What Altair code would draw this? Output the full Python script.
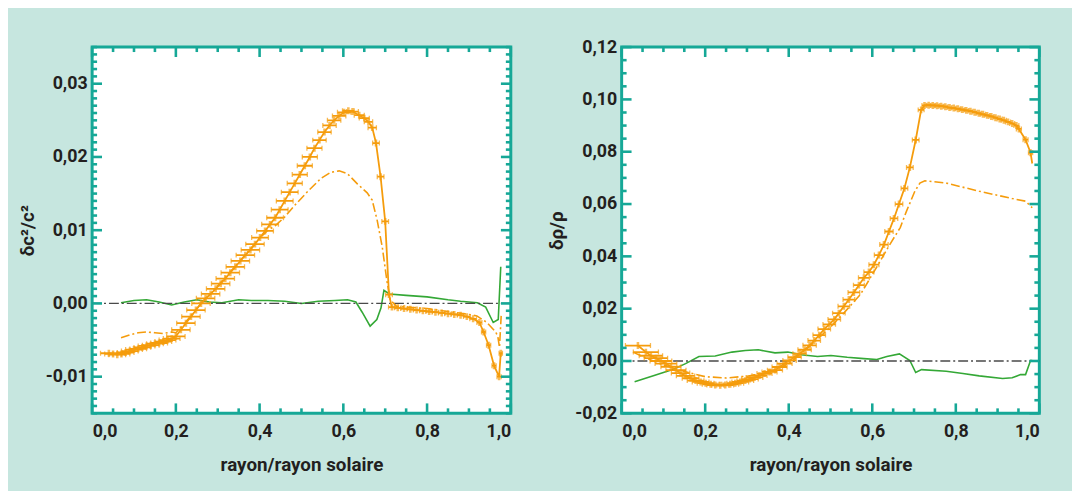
import altair as alt
import pandas as pd

TEAL = "#16a897"
BG = "#c6e6df"
ORANGE = "#f59c0c"
GREEN = "#34a836"
ZERO = "#4a4a4a"
FONT = "Roboto"

# ---------------- left panel : dc2/c2 ----------------
c_x = [0.040, 0.050, 0.060, 0.070, 0.080, 0.090, 0.100, 0.110, 0.120, 0.130,
       0.140, 0.150, 0.160, 0.170, 0.180, 0.190, 0.200, 0.212, 0.224, 0.236,
       0.248, 0.260, 0.271, 0.283, 0.295, 0.307, 0.318, 0.330, 0.342, 0.354,
       0.366, 0.378, 0.389, 0.401, 0.413, 0.425, 0.437, 0.448, 0.460, 0.472,
       0.484, 0.496, 0.508, 0.520, 0.531, 0.543, 0.555, 0.567, 0.578, 0.590,
       0.602, 0.612, 0.622, 0.638, 0.650, 0.660, 0.669, 0.678, 0.689, 0.700,
       0.709, 0.716, 0.730, 0.745, 0.760, 0.775, 0.790, 0.805, 0.820, 0.835,
       0.850, 0.865, 0.880, 0.895, 0.910, 0.925, 0.935, 0.947, 0.960, 0.972,
       0.976]
c_y = [-0.0068, -0.0069, -0.0070, -0.0069, -0.0067, -0.0065, -0.0063, -0.0062, -0.0060, -0.0058,
       -0.0057, -0.0055, -0.0054, -0.0052, -0.0050, -0.0048, -0.0045, -0.0036, -0.0027, -0.0018,
       -0.0009, 0.0000, 0.0007, 0.0013, 0.0020, 0.0027, 0.0034, 0.0042, 0.0050, 0.0058,
       0.0066, 0.0073, 0.0081, 0.0090, 0.0099, 0.0108, 0.0117, 0.0128, 0.0140, 0.0152,
       0.0164, 0.0176, 0.0188, 0.0200, 0.0212, 0.0223, 0.0234, 0.0243, 0.0250, 0.0256,
       0.0261, 0.0263, 0.0262, 0.0257, 0.0253, 0.0248, 0.0240, 0.0219, 0.0173, 0.0112,
       0.0012, -0.0005, -0.0006, -0.0007, -0.0008, -0.0009, -0.0010, -0.0011, -0.0012, -0.0013,
       -0.0014, -0.0015, -0.0016, -0.0018, -0.0021, -0.0026, -0.0039, -0.0057, -0.0085, -0.0100,
       -0.0068]
c_err = [0.020, 0.020, 0.020, 0.020, 0.020, 0.020, 0.020, 0.020, 0.020, 0.020,
         0.020, 0.020, 0.020, 0.020, 0.020, 0.020, 0.022, 0.022, 0.022, 0.022,
         0.022, 0.022, 0.022, 0.022, 0.022, 0.022, 0.022, 0.022, 0.022, 0.022,
         0.022, 0.022, 0.022, 0.020, 0.020, 0.020, 0.020, 0.020, 0.020, 0.020,
         0.018, 0.018, 0.018, 0.018, 0.018, 0.016, 0.016, 0.016, 0.016, 0.016,
         0.016, 0.014, 0.014, 0.012, 0.012, 0.010, 0.010, 0.008, 0.008, 0.008,
         0.008, 0.008, 0.008, 0.008, 0.008, 0.008, 0.008, 0.008, 0.008, 0.008,
         0.008, 0.008, 0.008, 0.008, 0.008, 0.006, 0.005, 0.005, 0.005, 0.005,
         0.004]

c_model_x = [0.069, 0.090, 0.110, 0.130, 0.150, 0.170, 0.190, 0.200, 0.220, 0.250,
             0.300, 0.350, 0.400, 0.420, 0.437, 0.460, 0.484, 0.515, 0.547, 0.570,
             0.590, 0.610, 0.634, 0.657, 0.669, 0.681, 0.693, 0.704, 0.712, 0.727,
             0.800, 0.850, 0.900, 0.919, 0.943, 0.964, 0.969, 0.973, 0.977]
c_model_y = [-0.0047, -0.0043, -0.0040, -0.0039, -0.0040, -0.0041, -0.0039, -0.0040, -0.0028, -0.0007,
             0.0024, 0.0056, 0.0089, 0.0100, 0.0106, 0.0118, 0.0134, 0.0153, 0.0171, 0.0179,
             0.0181, 0.0177, 0.0163, 0.0151, 0.0141, 0.0113, 0.0077, 0.0031, 0.0005, -0.0004,
             -0.0007, -0.0011, -0.0015, -0.0017, -0.0026, -0.0039, -0.0045, -0.0060, -0.0017]

c_diff_x = [0.069, 0.100, 0.130, 0.160, 0.190, 0.220, 0.250, 0.280, 0.310, 0.350,
            0.380, 0.420, 0.460, 0.500, 0.540, 0.580, 0.610, 0.630, 0.645, 0.664,
            0.680, 0.690, 0.697, 0.710, 0.750, 0.800, 0.850, 0.880, 0.920, 0.940,
            0.958, 0.970, 0.976]
c_diff_y = [0.0001, 0.0004, 0.0005, 0.0002, -0.0002, 0.0002, 0.0005, 0.0002, 0.0001, 0.0005,
            0.0004, 0.0004, 0.0003, 0.0000, 0.0003, 0.0004, 0.0005, 0.0002, -0.0012, -0.0031,
            -0.0022, -0.0006, 0.0018, 0.0013, 0.0011, 0.0009, 0.0005, 0.0003, 0.0001, -0.0005,
            -0.0026, -0.0022, 0.0050]

# ---------------- right panel : drho/rho ----------------
r_x = [0.039, 0.058, 0.070, 0.082, 0.094, 0.106, 0.118, 0.130, 0.141, 0.153,
       0.165, 0.177, 0.189, 0.201, 0.213, 0.224, 0.236, 0.248, 0.260, 0.272,
       0.284, 0.296, 0.307, 0.318, 0.330, 0.342, 0.354, 0.367, 0.378, 0.390,
       0.402, 0.414, 0.426, 0.438, 0.450, 0.461, 0.473, 0.485, 0.497, 0.509,
       0.520, 0.532, 0.544, 0.556, 0.568, 0.580, 0.592, 0.604, 0.616, 0.628,
       0.640, 0.652, 0.664, 0.677, 0.690, 0.704, 0.717, 0.725, 0.735, 0.745,
       0.755, 0.765, 0.775, 0.785, 0.795, 0.805, 0.815, 0.825, 0.835, 0.845,
       0.855, 0.865, 0.875, 0.885, 0.895, 0.905, 0.915, 0.925, 0.935, 0.945,
       0.951, 0.967, 0.979]
r_y = [0.0059, 0.0034, 0.0020, 0.0011, 0.0000, -0.0010, -0.0022, -0.0035, -0.0046, -0.0057,
       -0.0066, -0.0075, -0.0080, -0.0085, -0.0089, -0.0092, -0.0093, -0.0092, -0.0089, -0.0085,
       -0.0080, -0.0075, -0.0069, -0.0063, -0.0056, -0.0048, -0.0042, -0.0035, -0.0023, -0.0010,
       0.0002, 0.0015, 0.0028, 0.0043, 0.0060, 0.0078, 0.0099, 0.0122, 0.0140, 0.0159,
       0.0183, 0.0209, 0.0235, 0.0262, 0.0290, 0.0318, 0.0340, 0.0368, 0.0405, 0.0445,
       0.0495, 0.0545, 0.0600, 0.0660, 0.0740, 0.0845, 0.0960, 0.0977, 0.0978, 0.0977,
       0.0976, 0.0974, 0.0972, 0.0969, 0.0967, 0.0964, 0.0961, 0.0958, 0.0955, 0.0951,
       0.0947, 0.0943, 0.0939, 0.0935, 0.0930, 0.0925, 0.0920, 0.0914, 0.0908, 0.0900,
       0.0887, 0.0846, 0.0796]
r_err = [0.030, 0.030, 0.028, 0.028, 0.026, 0.026, 0.024, 0.024, 0.022, 0.022,
         0.020, 0.020, 0.020, 0.020, 0.020, 0.020, 0.020, 0.020, 0.020, 0.020,
         0.020, 0.020, 0.020, 0.020, 0.018, 0.018, 0.018, 0.018, 0.018, 0.018,
         0.016, 0.016, 0.016, 0.016, 0.016, 0.015, 0.015, 0.015, 0.015, 0.015,
         0.015, 0.014, 0.014, 0.014, 0.013, 0.013, 0.012, 0.012, 0.011, 0.010,
         0.010, 0.009, 0.009, 0.008, 0.008, 0.008, 0.007, 0.006, 0.006, 0.006,
         0.006, 0.006, 0.006, 0.006, 0.006, 0.006, 0.006, 0.006, 0.006, 0.006,
         0.006, 0.006, 0.006, 0.006, 0.006, 0.006, 0.006, 0.006, 0.006, 0.006,
         0.006, 0.006, 0.005]
r_line_end_x = [0.983]
r_line_end_y = [0.0755]

r_model_x = [0.027, 0.060, 0.100, 0.150, 0.200, 0.250, 0.300, 0.350, 0.400, 0.430,
             0.460, 0.500, 0.530, 0.572, 0.611, 0.643, 0.667, 0.682, 0.702, 0.714,
             0.726, 0.777, 0.856, 0.935, 0.967, 0.983]
r_model_y = [0.0034, 0.0010, -0.0015, -0.0040, -0.0060, -0.0065, -0.0058, -0.0045, -0.0010, 0.0030,
             0.0070, 0.0130, 0.0180, 0.0255, 0.0360, 0.0448, 0.0510, 0.0573, 0.0649, 0.0680,
             0.0689, 0.0680, 0.0649, 0.0621, 0.0611, 0.0586]

r_diff_x = [0.031, 0.074, 0.122, 0.153, 0.185, 0.224, 0.264, 0.296, 0.327, 0.367,
            0.398, 0.430, 0.469, 0.501, 0.540, 0.580, 0.611, 0.635, 0.665, 0.690,
            0.704, 0.718, 0.777, 0.817, 0.856, 0.912, 0.935, 0.955, 0.967, 0.979,
            0.983]
r_diff_y = [-0.0079, -0.0057, -0.0033, -0.0010, 0.0017, 0.0019, 0.0034, 0.0040, 0.0043, 0.0031,
            0.0034, 0.0024, 0.0017, 0.0021, 0.0014, 0.0009, 0.0006, 0.0017, 0.0027, 0.0002,
            -0.0044, -0.0033, -0.0039, -0.0048, -0.0057, -0.0067, -0.0064, -0.0052, -0.0052, 0.0002,
            0.0002]

# axis tick values
x_major = [0.0, 0.2, 0.4, 0.6, 0.8, 1.0]
x_minor = [i / 20 for i in range(21) if i % 4 != 0]
c_major = [-0.01, 0.0, 0.01, 0.02, 0.03]
c_minor = [i / 1000 for i in range(-15, 36) if i % 10 != 0]
r_major = [-0.02, 0.0, 0.02, 0.04, 0.06, 0.08, 0.10, 0.12]
r_minor = [i / 1000 for i in range(-20, 121, 5) if i % 20 != 0]

W_L, W_R, H = 423, 422, 370


def fmt_expr(dec):
    return ("replace(replace(format(datum.value, '.%df'), '.', ','), '\u2212', '-')" % dec)


def panel(W, y_dom, y_title, px, py, perr, mx, my, dx, dy, ymaj, ymin,
          end_x=None, end_y=None):
    xs = alt.Scale(domain=[0, 1], nice=False)
    ys = alt.Scale(domain=y_dom, nice=False, zero=False)
    x_axis = alt.Axis(values=x_major, labelExpr=fmt_expr(1), title="rayon/rayon solaire",
                      ticks=False, domain=False, grid=False, labelPadding=9,
                      titlePadding=16)
    y_axis = alt.Axis(values=ymaj, labelExpr=fmt_expr(2), title=y_title,
                      ticks=False, domain=False, grid=False, labelPadding=5,
                      titlePadding=8)

    def X(f):
        return alt.X(f, type="quantitative", scale=xs, axis=x_axis, title="rayon/rayon solaire")

    def Y(f):
        return alt.Y(f, type="quantitative", scale=ys, axis=y_axis, title=y_title)

    zero = alt.Chart(pd.DataFrame({"z": [0.0]})).mark_rule(
        color=ZERO, strokeWidth=1.3, strokeDash=[10, 3, 2, 3]
    ).encode(y=Y("z"))

    diff = alt.Chart(pd.DataFrame({"x": dx, "y": dy})).mark_line(
        color=GREEN, strokeWidth=1.6, clip=True
    ).encode(x=X("x"), y=Y("y"), order="x:Q")

    model = alt.Chart(pd.DataFrame({"x": mx, "y": my})).mark_line(
        color=ORANGE, strokeWidth=1.6, strokeDash=[9, 3, 2, 3], clip=True
    ).encode(x=X("x"), y=Y("y"), order="x:Q")

    lx = list(px) + (end_x or [])
    ly = list(py) + (end_y or [])
    obs_line = alt.Chart(pd.DataFrame({"x": lx, "y": ly, "i": list(range(len(lx)))})).mark_line(
        color=ORANGE, strokeWidth=1.8, clip=True
    ).encode(x=X("x"), y=Y("y"), order="i:Q")

    edf = pd.DataFrame({"x": px, "y": py,
                        "lo": [a - e for a, e in zip(px, perr)],
                        "hi": [a + e for a, e in zip(px, perr)]})
    ebar = alt.Chart(edf).mark_rule(color=ORANGE, strokeWidth=1.8, clip=True).encode(
        x=X("lo"), x2="hi", y=Y("y"))
    cap_lo = alt.Chart(edf).mark_tick(color=ORANGE, orient="vertical", size=5,
                                      thickness=1.3, clip=True).encode(x=X("lo"), y=Y("y"))
    cap_hi = alt.Chart(edf).mark_tick(color=ORANGE, orient="vertical", size=5,
                                      thickness=1.3, clip=True).encode(x=X("hi"), y=Y("y"))
    center = alt.Chart(edf).mark_tick(color=ORANGE, orient="vertical", size=7,
                                      thickness=2.6, clip=True).encode(x=X("x"), y=Y("y"))

    # inward frame ticks on all four sides
    tk = dict(color=TEAL, strokeWidth=2.6)
    dxM = pd.DataFrame({"v": x_major})
    dxm = pd.DataFrame({"v": x_minor})
    dyM = pd.DataFrame({"v": ymaj})
    dym = pd.DataFrame({"v": ymin})
    ticks = [
        alt.Chart(dxM).mark_rule(**tk).encode(x=X("v"), y=alt.value(H), y2=alt.value(H - 10)),
        alt.Chart(dxm).mark_rule(**tk).encode(x=X("v"), y=alt.value(H), y2=alt.value(H - 5)),
        alt.Chart(dxM).mark_rule(**tk).encode(x=X("v"), y=alt.value(0), y2=alt.value(10)),
        alt.Chart(dxm).mark_rule(**tk).encode(x=X("v"), y=alt.value(0), y2=alt.value(5)),
        alt.Chart(dyM).mark_rule(**tk).encode(y=Y("v"), x=alt.value(0), x2=alt.value(10)),
        alt.Chart(dym).mark_rule(**tk).encode(y=Y("v"), x=alt.value(0), x2=alt.value(5)),
        alt.Chart(dyM).mark_rule(**tk).encode(y=Y("v"), x=alt.value(W), x2=alt.value(W - 10)),
        alt.Chart(dym).mark_rule(**tk).encode(y=Y("v"), x=alt.value(W), x2=alt.value(W - 5)),
    ]

    return alt.layer(diff, zero, model, ebar, cap_lo, cap_hi, center, obs_line,
                     *ticks).properties(width=W, height=H)


left = panel(W_L, [-0.015, 0.035], "\u03b4c\u00b2/c\u00b2", c_x, c_y, c_err,
             c_model_x, c_model_y, c_diff_x, c_diff_y, c_major, c_minor)
right = panel(W_R, [-0.02, 0.12], "\u03b4\u03c1/\u03c1", r_x, r_y, r_err,
              r_model_x, r_model_y, r_diff_x, r_diff_y, r_major, r_minor,
              r_line_end_x, r_line_end_y)

chart = alt.hconcat(left, right, spacing=32).properties(
    padding={"left": 8, "top": 26, "right": 30, "bottom": 12},
    background=BG,
).configure_view(
    stroke=TEAL, strokeWidth=3, fill="white"
).configure_axis(
    labelFont=FONT, labelFontSize=18, labelFontWeight="bold", labelColor="#231f20",
    titleFont=FONT, titleFontSize=19, titleFontWeight="bold", titleColor="#231f20",
)

chart.save("out.html", embed_options={"renderer": "svg", "actions": False})
